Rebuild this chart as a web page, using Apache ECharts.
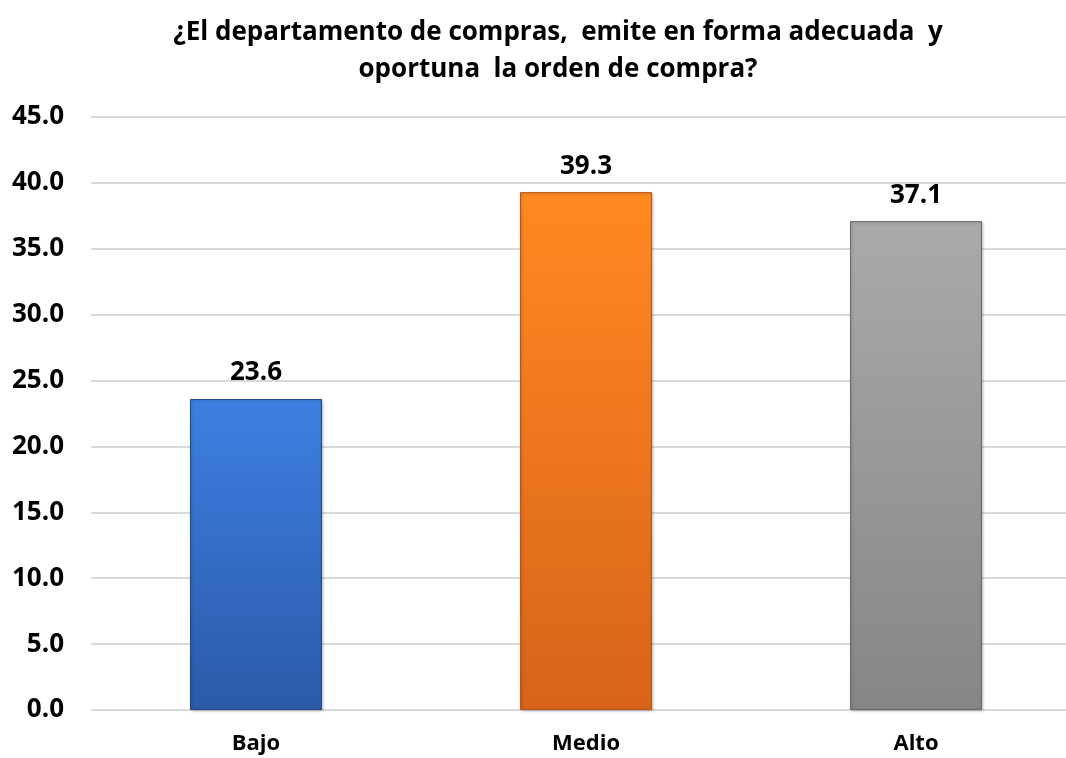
<!DOCTYPE html>
<html>
<head>
<meta charset="utf-8">
<script src="https://cdn.jsdelivr.net/npm/echarts@6/dist/echarts.min.js"></script>
<style>
html,body{margin:0;padding:0;background:#fff;}
#c{width:1066px;height:758px;}
</style>
</head>
<body>
<div id="c"></div>
<script>
const titleText = '¿El departamento de compras,  emite en forma adecuada  y\noportuna  la orden de compra?';
const categories = ['Bajo', 'Medio', 'Alto'];
const values = [23.6, 39.3, 37.1];
const yTicks = {min: 0, max: 45, interval: 5};

const barColors = [
  ['#3d80e2', '#2b5aa8', '#24498a'],
  ['#ff8a22', '#d8631a', '#b85418'],
  ['#aaaaaa', '#868686', '#6a6a6a']
];
function grad(c) {
  return new echarts.graphic.LinearGradient(0, 0, 0, 1, [
    {offset: 0, color: c[0]},
    {offset: 1, color: c[1]}
  ]);
}

const chart = echarts.init(document.getElementById('c'), null, {renderer: 'canvas'});
const FONT = 'Open Sans';
chart.setOption({
  animation: false,
  title: {
    text: titleText,
    left: 553,
    textAlign: 'center',
    top: 9,
    textStyle: {fontFamily: FONT, fontWeight: 'bold', fontSize: 26, color: '#000', lineHeight: 37}
  },
  grid: {left: 91, width: 990, top: 117, bottom: 48, containLabel: false, outerBoundsMode: 'none'},
  xAxis: {
    type: 'category',
    data: categories,
    axisLine: {show: false},
    axisTick: {show: false},
    axisLabel: {fontFamily: FONT, fontWeight: 'bold', fontSize: 22, color: '#000', margin: 23}
  },
  yAxis: {
    type: 'value',
    min: yTicks.min, max: yTicks.max, interval: yTicks.interval,
    axisLine: {show: false},
    axisTick: {show: false},
    splitLine: {lineStyle: {color: '#d9d9d9', width: 2}},
    axisLabel: {fontFamily: FONT, fontWeight: 'bold', fontSize: 26, color: '#000', margin: 27,
      formatter: v => v.toFixed(1)}
  },
  series: [{
    type: 'bar',
    barWidth: '40%',
    data: values.map((v, i) => ({
      value: v,
      itemStyle: {color: grad(barColors[i]), borderColor: barColors[i][2], borderWidth: 1,
        shadowColor: 'rgba(0,0,0,0.25)', shadowBlur: 3, shadowOffsetX: 1, shadowOffsetY: 1}
    })),
    label: {
      show: true, position: 'top', distance: 13,
      fontFamily: FONT, fontWeight: 'bold', fontSize: 26, color: '#000',
      formatter: p => p.value.toFixed(1)
    }
  }]
});
</script>
</body>
</html>
